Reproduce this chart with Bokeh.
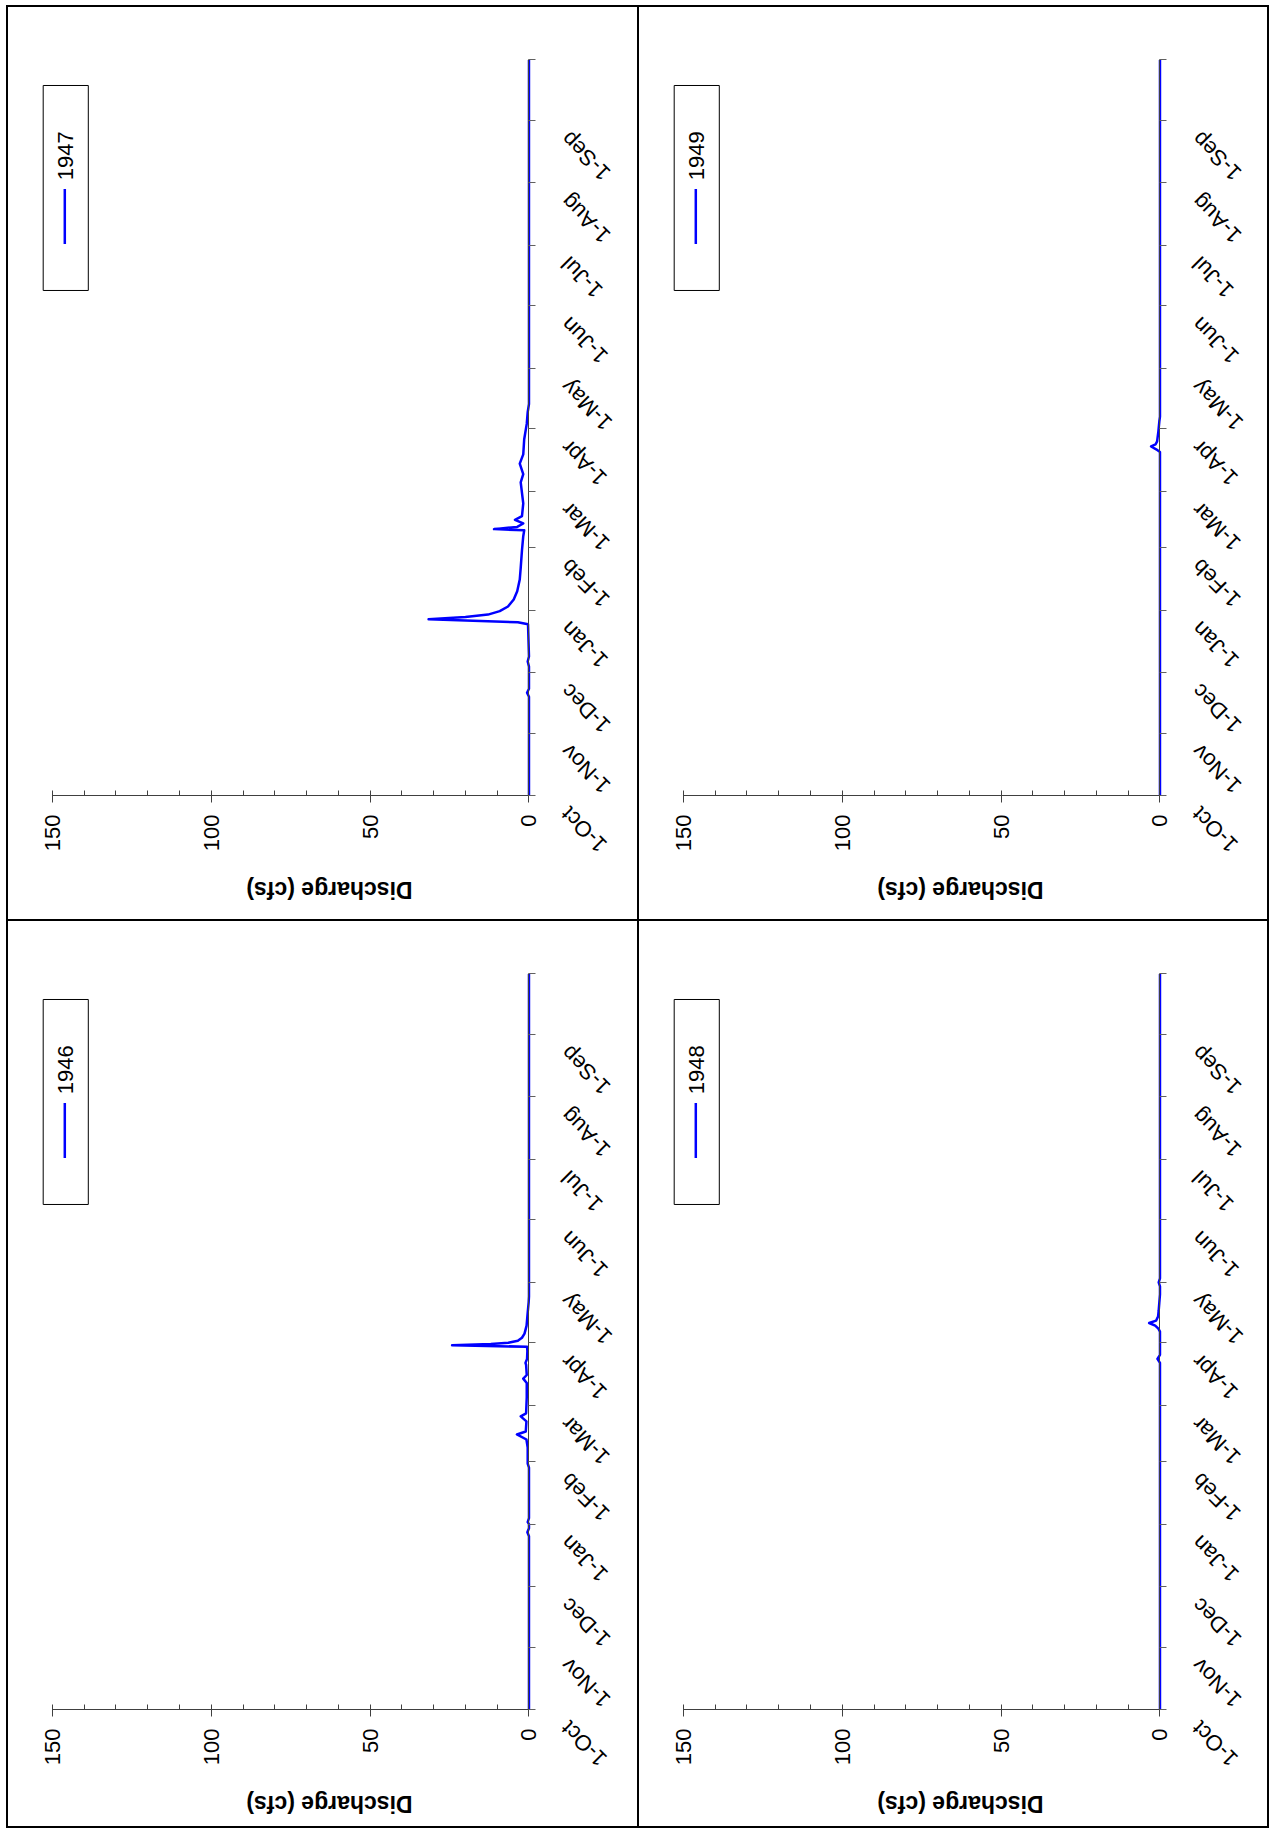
import math
from bokeh.plotting import figure
from bokeh.layouts import gridplot
from bokeh.models import (Range1d, LinearAxis, FixedTicker, ColumnDataSource,
                          LabelSet, Label, BoxAnnotation)
from bokeh.embed import file_html
from bokeh.resources import INLINE
from bokeh.core.properties import value

# ---------------- data ----------------
# water-year day (0 = 1 Oct) of each month start, and their labels
MONTH_DAYS = [0, 31, 61, 92, 123, 151, 182, 212, 243, 273, 304, 335, 365]
MONTH_LABELS = ["1-Oct", "1-Nov", "1-Dec", "1-Jan", "1-Feb", "1-Mar", "1-Apr",
                "1-May", "1-Jun", "1-Jul", "1-Aug", "1-Sep", ""]
Q_TICKS = [0, 50, 100, 150]
Q_MINOR = [10, 20, 30, 40, 60, 70, 80, 90, 110, 120, 130, 140]
AXIS_TITLE = "Discharge (cfs)"

days_1946 = [0, 86, 88, 90, 92, 93, 95, 120, 122, 130, 134, 136.5, 138, 143, 145.5,
             147, 155, 162, 164.2, 166, 171, 172, 174, 178, 180, 180.8, 181.4, 182,
             183, 184.5, 186.5, 190.5, 197, 202, 205, 365]
q_1946 = [0, 0, 0.5, 0, 0, 0.4, 0, 0, 0.4, 0.4, 0.8, 3.8, 1.0, 0.8, 2.6,
          0.9, 0.7, 0.7, 1.8, 0.7, 0.9, 1.1, 0.6, 0.5, 0.6, 24.2, 12, 6.5,
          3.5, 2.2, 1.4, 0.75, 0.4, 0.1, 0, 0]

days_1947 = [0, 49, 51, 53, 64, 66.5, 69, 85, 86, 87.5, 88.6, 89.8, 91.5, 93.8,
             97.3, 101.4, 107.2, 113, 121.7, 128.7, 131.6, 132.2, 133.3, 135,
             136.8, 138.6, 145, 155.4, 159.5, 164.7, 169.3, 176.8, 184.4, 190.2,
             194.3, 365]
q_1947 = [0, 0, 0.6, 0, 0, 0.4, 0, 0.3, 3.5, 31.6, 20, 12.9, 9.2, 6.6,
          4.8, 3.7, 2.9, 2.6, 2.2, 1.8, 1.5, 11.0, 3.7, 1.8,
          4.4, 2.2, 1.8, 2.6, 1.8, 2.9, 1.8, 1.5, 0.7, 0.4,
          0, 0]

days_1948 = [0, 172, 174, 176, 187.5, 189, 190.5, 191.8, 193, 195, 198, 202, 206,
             210, 212, 214, 365]
q_1948 = [0, 0, 0.8, 0, 0, 0.5, 1.5, 3.4, 1.2, 0.6, 0.4, 0.2, 0,
          0, 0.4, 0, 0]

days_1949 = [0, 170.5, 171.8, 173.2, 174.2, 175.7, 180.7, 185.7, 188, 365]
q_1949 = [0, 0, 1.2, 2.8, 1.4, 0.9, 0.5, 0.2, 0, 0]

# ---------------- style ----------------
FONT = "Liberation Sans"
BLUE = "#0000FF"
AX = "#404040"
PX_PER_CFS = 3.162
PX_PER_DAY = 2.009
ZERO_X = 518.0     # px from inner left edge of panel to the 0 cfs line
ZERO_Y = 785.5     # px from inner top edge of panel to 1-Oct


def make_panel(year, days, q, outer_w, outer_h, border_widths):
    bw = [int(s.replace("px", "")) for s in border_widths.split()]
    inner_w = outer_w - bw[1] - bw[3]
    inner_h = outer_h - bw[0] - bw[2]
    xr = Range1d(ZERO_X / PX_PER_CFS, -(inner_w - ZERO_X) / PX_PER_CFS)
    yr = Range1d(-(inner_h - ZERO_Y) / PX_PER_DAY, ZERO_Y / PX_PER_DAY)
    p = figure(width=outer_w, height=outer_h, output_backend="svg",
               toolbar_location=None, x_range=xr, y_range=yr,
               x_axis_location=None, y_axis_location=None,
               min_border_left=0, min_border_top=0,
               min_border_right=0, min_border_bottom=0,
               background_fill_color="white", border_fill_color="white",
               styles={"border-style": "solid", "border-color": "black",
                       "border-width": border_widths})
    p.grid.visible = False
    p.outline_line_color = None

    # discharge axis (horizontal, reversed), drawn at 1-Oct
    xa = LinearAxis(ticker=FixedTicker(ticks=Q_TICKS, minor_ticks=Q_MINOR),
                    bounds=(0, 150), fixed_location=0)
    xa.axis_line_color = AX
    xa.major_tick_line_color = AX
    xa.minor_tick_line_color = AX
    xa.major_tick_in = 5
    xa.major_tick_out = 7
    xa.minor_tick_in = 5
    xa.minor_tick_out = 0
    xa.major_label_orientation = math.pi / 2
    xa.major_label_standoff = 12
    xa.major_label_text_font = FONT
    xa.major_label_text_font_size = "22px"
    xa.major_label_text_color = "black"
    p.add_layout(xa, "below")

    # date axis (vertical), drawn at 0 cfs
    ya = LinearAxis(ticker=FixedTicker(ticks=MONTH_DAYS), bounds=(0, 365),
                    fixed_location=0)
    ya.axis_line_color = AX
    ya.major_tick_line_color = "#606060"
    ya.major_tick_in = 0
    ya.major_tick_out = 7
    ya.minor_tick_line_color = None
    ya.major_label_overrides = {d: "" for d in MONTH_DAYS}
    ya.major_label_text_font_size = "1px"
    p.add_layout(ya, "right")

    # date labels
    lab_src = ColumnDataSource(dict(x=[0] * (len(MONTH_DAYS) - 1),
                                    y=MONTH_DAYS[:-1], text=MONTH_LABELS[:-1]))
    p.add_layout(LabelSet(x="x", y="y", text="text", source=lab_src,
                          angle=3 * math.pi / 4, text_align="right",
                          text_baseline="middle", x_offset=36, y_offset=-15,
                          text_font=value(FONT), text_font_size="22px",
                          text_color="black"))

    # axis title (upside down)
    p.add_layout(Label(x=62.8, y=0, y_offset=-94.6, text=AXIS_TITLE, angle=math.pi,
                       text_align="center", text_baseline="middle",
                       text_font=FONT, text_font_style="bold",
                       text_font_size="23px", text_color="black"))

    # data
    src = ColumnDataSource(dict(q=q, day=days))
    p.line(x="q", y="day", source=src, line_color=BLUE, line_width=2.5,
           line_join="round")

    # legend
    p.add_layout(BoxAnnotation(left=152.9, right=138.7, bottom=250.6, top=352.3,
                               fill_alpha=0, fill_color=None, line_color="black",
                               line_width=1, line_alpha=1))
    p.segment(x0=[146.1], y0=[273.6], x1=[146.1], y1=[301.0],
              line_color=BLUE, line_width=2.5)
    p.add_layout(Label(x=145.8, y=305.3, text=year, angle=math.pi / 2,
                       text_align="left", text_baseline="middle",
                       text_font=FONT, text_font_size="22px",
                       text_color="black"))
    return p


p47 = make_panel("1947", days_1947, q_1947, 632, 915, "2px 1px 1px 2px")
p49 = make_panel("1949", days_1949, q_1949, 631, 915, "2px 2px 1px 1px")
p46 = make_panel("1946", days_1946, q_1946, 632, 908, "1px 1px 2px 2px")
p48 = make_panel("1948", days_1948, q_1948, 631, 908, "1px 2px 2px 1px")

grid = gridplot([[p47, p49], [p46, p48]], toolbar_location=None)
grid.styles = {"margin-left": "6px", "margin-top": "5px"}

open("out.html", "w").write(file_html(grid, INLINE))
